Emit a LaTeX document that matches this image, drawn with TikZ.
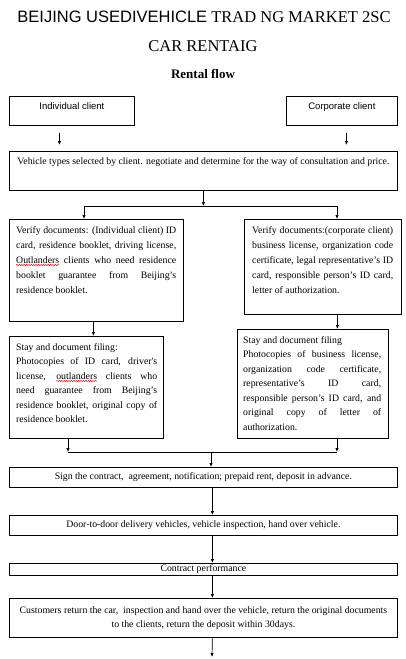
\documentclass[tikz,border=0pt]{standalone}
\usepackage{fontspec}
\setmainfont{Liberation Serif}
\newfontfamily\arialfont{Liberation Sans}
\usetikzlibrary{arrows.meta,decorations.pathmorphing}

\newcommand\bodyfont{\fontsize{9.8}{15}\selectfont}
\newcommand\stayfont{\fontsize{9.8}{14.5}\selectfont}
\newsavebox\spellbox
\newcommand\spellerr[1]{\sbox\spellbox{#1}\rlap{\tikz[overlay]\draw[red,line width=0.5pt,decorate,decoration={snake,amplitude=0.6pt,segment length=2.4pt}] (0pt,-2pt) -- (\wd\spellbox,-2pt);}\usebox\spellbox}

\begin{document}
\begin{tikzpicture}[x=1pt,y=-1pt,
  box/.style={draw, line width=0.8pt, inner sep=0pt, anchor=north west},
  txt/.style={inner sep=0pt, anchor=base west, align=justify, font=\bodyfont},
  sans/.style={inner sep=0pt, anchor=base, font=\arialfont\fontsize{9.5}{11}\selectfont},
  arr/.style={-{Latex[length=4pt,width=3.4pt]}, line width=0.7pt},
  ln/.style={line width=0.7pt}]
\useasboundingbox (0,0) rectangle (405,659);

% titles
\node[anchor=base, font=\fontsize{16.5}{18}\selectfont] (title) at (204,22.7) {{\arialfont BEIJING USEDIVEHICLE} TRAD NG MARKET 2SC};
\node[anchor=base, font=\fontsize{16.5}{18}\selectfont] (title2) at (203,51.7) {CAR RENTAIG};
\node[anchor=base, font=\fontsize{13}{15}\selectfont\bfseries] (flow) at (203,78) {Rental flow};

% clients
\node[box, minimum width=125pt, minimum height=29pt] (ind) at (9,96) {};
\node[sans] (ind-t) at ([yshift=-13pt]ind.north) {Individual client};
\node[box, minimum width=111pt, minimum height=29pt] (corp) at (286,96) {};
\node[sans] (corp-t) at ([yshift=-13pt]corp.north) {Corporate client};

\node[box, minimum width=388pt, minimum height=39pt] (veh) at (9,151) {};
\node[inner sep=0pt, anchor=base, font=\bodyfont] (veh-t) at ([yshift=-13pt]veh.north) {Vehicle types selected by client. negotiate and determine for the way of consultation and price.};

% documents
\node[box, minimum width=174pt, minimum height=102pt] (verl) at (9,219) {};
\node[txt, text width=160pt] (verl-t) at ([shift={(7pt,-14pt)}]verl.north west)
  {Verify documents: (Individual client) ID\linebreak
   card, residence booklet, driving license,\linebreak
   \spellerr{Outlanders} clients who need residence\linebreak
   booklet guarantee from Beijing's\linebreak
   residence booklet.};
\node[box, minimum width=157pt, minimum height=95pt] (verr) at (244,219) {};
\node[txt, text width=141pt] (verr-t) at ([shift={(8pt,-14pt)}]verr.north west)
  {Verify documents:(corporate client)\linebreak
   business license, organization code\linebreak
   certificate, legal representative's ID\linebreak
   card, responsible person's ID card,\linebreak
   letter of authorization.};

\node[box, minimum width=154pt, minimum height=102pt] (stayl) at (9,336) {};
\node[txt, text width=141pt, font=\stayfont] (stayl-t) at ([shift={(7pt,-14pt)}]stayl.north west)
  {Stay and document filing:\\
   Photocopies of ID card, driver\textquotesingle s\linebreak
   license, \spellerr{outlanders} clients who\linebreak
   need guarantee from Beijing's\linebreak
   residence booklet, original copy of\linebreak
   residence booklet.};
\node[box, minimum width=151pt, minimum height=109pt] (stayr) at (237,329) {};
\node[txt, text width=138pt, font=\stayfont] (stayr-t) at ([shift={(6pt,-14pt)}]stayr.north west)
  {Stay and document filing\\
   Photocopies of business license,\linebreak
   organization code certificate,\linebreak
   representative's ID card,\linebreak
   responsible person's ID card, and\linebreak
   original copy of letter of\linebreak
   authorization.};

% contract
\node[box, minimum width=388pt, minimum height=20pt, font=\bodyfont] (sign) at (9,467) {Sign the contract,~ agreement, notification; prepaid rent, deposit in advance.};
\node[box, minimum width=388pt, minimum height=20pt, font=\bodyfont] (door) at (9,515) {Door-to-door delivery vehicles, vehicle inspection, hand over vehicle.};
\node[box, minimum width=388pt, minimum height=12pt, font=\bodyfont] (perf) at (9,563) {Contract performance};
\node[box, minimum width=388pt, minimum height=39pt, align=center, font=\fontsize{9.8}{14}\selectfont] (ret) at (9,598)
  {Customers return the car,~ inspection and hand over the vehicle, return the original documents\\
   to the clients, return the deposit within 30days.};

% connectors
\coordinate (a1) at ([shift={(-12.5pt,-7pt)}]ind.south);
\draw[arr] (a1) -- ([yshift=6pt]a1 |- veh.north);
\coordinate (a2) at ([shift={(4.5pt,-7pt)}]corp.south);
\draw[arr] (a2) -- ([yshift=6pt]a2 |- veh.north);

\coordinate (j1l) at (84,206);
\coordinate (j1r) at (337,206);
\draw[arr] (veh.south) -- (veh.south |- j1l);
\draw[ln] (j1l) -- (j1r);
\draw[arr] (j1l) -- (j1l |- verl.north);
\draw[arr] (j1r) -- (j1r |- verr.north);

\draw[arr] ([xshift=-3pt]verl.south) -- ([xshift=-3pt]verl.south |- stayl.north);
\draw[arr] ([xshift=14.5pt]verr.south) -- ([xshift=14.5pt]verr.south |- stayr.north);

\coordinate (j2l) at (68,452);
\coordinate (j2r) at (337,452);
\coordinate (j2m) at (211,452);
\draw[arr] (j2l |- stayl.south) -- (j2l);
\draw[arr] (j2r |- stayr.south) -- (j2r);
\draw[ln] (j2l) -- (j2r);
\draw[arr] (j2m) -- (j2m |- sign.north);

\draw[arr] ([xshift=9pt]sign.south) -- ([xshift=9pt]door.north);
\draw[arr] ([xshift=9pt]door.south) -- ([xshift=9pt]perf.north);
\draw[arr] ([xshift=9pt]perf.south) -- ([xshift=9pt]ret.north);
\coordinate (end) at (212,657);
\draw[arr] ([xshift=9pt]ret.south) -- (end);
\end{tikzpicture}
\end{document}
